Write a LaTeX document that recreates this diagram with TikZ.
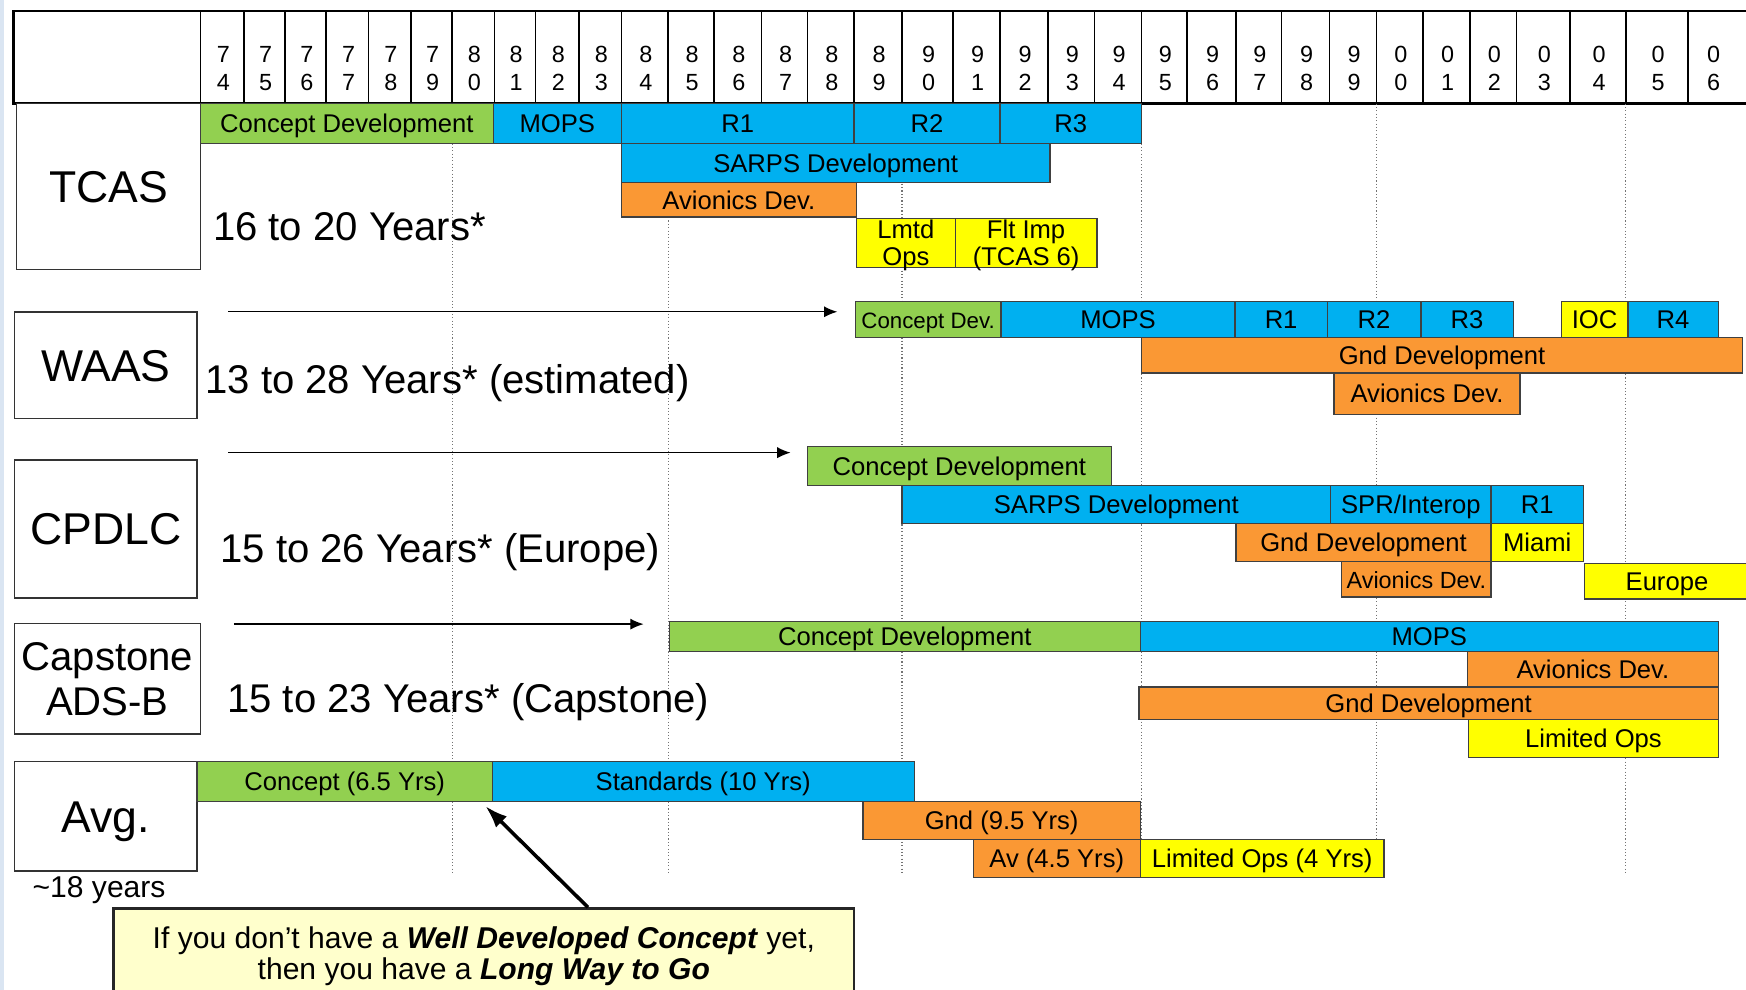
\documentclass[tikz,border=0pt]{standalone}
\usepackage{fontspec}
\setmainfont{Liberation Sans}
\usetikzlibrary{positioning}
\usetikzlibrary{arrows.meta}

\definecolor{cgreen}{RGB}{146,208,80}
\definecolor{cblue}{RGB}{0,176,240}
\definecolor{corange}{RGB}{250,152,52}
\definecolor{cyellow}{RGB}{255,255,0}
\definecolor{cnote}{RGB}{255,255,204}
\definecolor{cslide}{RGB}{218,229,242}

\begin{document}
\begin{tikzpicture}[
    x=0.5pt, y=-0.5pt,
    >={Latex[length=6pt,width=5pt]},
    % Define the style for the nodes
    task/.style={draw=black!75, line width=0.6pt, inner sep=0pt, outer sep=0pt, anchor=north west, align=center,
                 font=\fontsize{11.5}{12}\selectfont, text height=8.2pt, text depth=0pt},
    concept/.style={task, fill=cgreen},
    standard/.style={task, fill=cblue},
    develop/.style={task, fill=corange},
    ops/.style={task, fill=cyellow},
    program/.style={draw=black!80, line width=0.7pt, fill=white, inner sep=0pt, outer sep=0pt, anchor=north west,
                    align=center, font=\fontsize{20}{22}\selectfont, text height=14.3pt, text depth=0pt},
    duration/.style={anchor=base west, inner sep=0pt, font=\fontsize{18}{20}\selectfont},
    year/.style={inner sep=0pt, align=center, font=\fontsize{10.5}{12.5}\selectfont, text height=20pt, text depth=0pt},
    guide/.style={densely dotted, black!55, line width=0.5pt},
    callout/.style={draw=black!85, line width=1.2pt, fill=cnote, inner sep=0pt, align=center,
                    font=\fontsize{13.5}{14.3}\selectfont, text height=24pt, text depth=0pt}
]
    \clip (0,0) rectangle (1568,889);
    \fill[cslide] (0,0) rectangle (4,889);

    % year header
    \draw[line width=1.1pt] (1580,10) -- (12,10) -- (12,93) -- (1580,93);
    \foreach \a/\b/\xa/\xb in {7/4/180/219, 7/5/219/256, 7/6/256/293, 7/7/293/331, 7/8/331/369, 7/9/369/406,
        8/0/406/444, 8/1/444/481, 8/2/481/520, 8/3/520/558, 8/4/558/600, 8/5/600/641, 8/6/641/684, 8/7/684/725,
        8/8/725/767, 8/9/767/810, 9/0/810/856, 9/1/856/898, 9/2/898/941, 9/3/941/983, 9/4/983/1025,
        9/5/1025/1066, 9/6/1066/1110, 9/7/1110/1151, 9/8/1151/1194, 9/9/1194/1236, 0/0/1236/1278,
        0/1/1278/1320, 0/2/1320/1362, 0/3/1362/1410, 0/4/1410/1460, 0/5/1460/1516, 0/6/1516/1560} {
        \draw[line width=0.7pt] (\xa,10) -- (\xa,93);
        \node[year] (yr\a\b) at ({(\xa+\xb)/2+1},61) {\a\\\b};
    }

    % five year guides
    \foreach \x in {406,600,810,1025,1236,1460}
        \draw[guide] (\x,93) -- (\x,785);

    % TCAS
    \node[program, minimum width=82.5pt, minimum height=74.5pt] (tcas) at (15,93) {TCAS};
    \foreach \nm/\sty/\xa/\xb/\ya/\yb/\txt in {
        tcasCon/concept/180/443/93/129/Concept Development,
        tcasMops/standard/443/558/93/129/MOPS,
        tcasR1/standard/558/767/93/129/R1,
        tcasR2/standard/767/898/93/129/R2,
        tcasR3/standard/898/1025/93/129/R3,
        tcasSarps/standard/558/943/129/164/SARPS Development,
        tcasAv/develop/558/769/164/195/Avionics Dev.}
        \node[\sty, minimum width={(\xb-\xa)*0.5pt}, minimum height={(\yb-\ya)*0.5pt}] (\nm) at (\xa,\ya) {\txt};
    \node[ops, minimum width=44.5pt, minimum height=22pt, text height=20.2pt] (tcasLmtd) at (769,196) {Lmtd\\Ops};
    \node[ops, minimum width=63.5pt, minimum height=22pt, text height=20.2pt] (tcasFlt) at (858,196) {Flt Imp\\(TCAS 6)};
    \node[duration] (tcasSpan) at (191,216) {16 to 20 Years*};

    % WAAS
    \node[program, minimum width=82pt, minimum height=48pt] (waas) at (13,280) {WAAS};
    \foreach \nm/\sty/\xa/\xb/\ya/\yb/\txt in {
        waasCon/concept/768/899/271/303/{\fontsize{10}{12}\selectfont Concept Dev.},
        waasMops/standard/899/1109/271/303/MOPS,
        waasR1/standard/1109/1192/271/303/R1,
        waasR2/standard/1192/1276/271/303/R2,
        waasR3/standard/1276/1359/271/303/R3,
        waasIoc/ops/1402/1462/271/303/IOC,
        waasR4/standard/1462/1543/271/303/R4,
        waasGnd/develop/1025/1565/303/335/Gnd Development,
        waasAv/develop/1198/1365/335/372/Avionics Dev.}
        \node[\sty, minimum width={(\xb-\xa)*0.5pt}, minimum height={(\yb-\ya)*0.5pt}] (\nm) at (\xa,\ya) {\txt};
    \coordinate (waasGo) at (205,280);
    \draw[->, line width=0.6pt, shorten >=8pt] (waasGo) -- (waasGo -| waasCon.west);
    \node[duration] (waasSpan) at (184,353) {13 to 28 Years* (estimated)};

    % CPDLC
    \node[program, minimum width=82pt, minimum height=62pt] (cpdlc) at (13,413) {CPDLC};
    \foreach \nm/\sty/\xa/\xb/\ya/\yb/\txt in {
        cpdlcCon/concept/725/998/401/436/Concept Development,
        cpdlcSarps/standard/810/1195/436/470/SARPS Development,
        cpdlcSpr/standard/1195/1339/436/470/{SPR/Interop},
        cpdlcR1/standard/1339/1422/436/470/R1,
        cpdlcGnd/develop/1110/1339/470/504/Gnd Development,
        cpdlcMiami/ops/1339/1422/470/504/Miami,
        cpdlcAv/develop/1205/1339/504/536/{\fontsize{10.5}{12}\selectfont Avionics Dev.},
        cpdlcEur/ops/1423/1571/506/538/Europe}
        \node[\sty, minimum width={(\xb-\xa)*0.5pt}, minimum height={(\yb-\ya)*0.5pt}] (\nm) at (\xa,\ya) {\txt};
    \coordinate (cpdlcGo) at (205,406.5);
    \draw[->, line width=0.6pt, shorten >=7.5pt] (cpdlcGo) -- (cpdlcGo -| cpdlcCon.west);
    \node[duration] (cpdlcSpan) at (197.5,505) {15 to 26 Years* (Europe)};

    % Capstone ADS-B
    \node[program, minimum width=83.5pt, minimum height=49.5pt, font=\fontsize{18}{20.2}\selectfont,
          text height=33.1pt] (capstone) at (13,560) {Capstone\\ADS-B};
    \foreach \nm/\sty/\xa/\xb/\ya/\yb/\txt in {
        capCon/concept/601/1024/558/585/Concept Development,
        capMops/standard/1024/1543/558/585/MOPS,
        capAv/develop/1318/1543/585/617/Avionics Dev.,
        capGnd/develop/1023/1543/617/646/Gnd Development,
        capOps/ops/1319/1543/646/680/Limited Ops}
        \node[\sty, minimum width={(\xb-\xa)*0.5pt}, minimum height={(\yb-\ya)*0.5pt}] (\nm) at (\xa,\ya) {\txt};
    \coordinate (capGo) at (210,560.5);
    \draw[->, line width=0.6pt, shorten >=11.5pt] (capGo) -- (capGo -| capCon.west);
    \node[duration] (capSpan) at (203.7,640) {15 to 23 Years* (Capstone)};

    % average
    \node[program, minimum width=82pt, minimum height=49pt] (avg) at (13,684) {Avg.};
    \foreach \nm/\sty/\xa/\xb/\ya/\yb/\txt in {
        avgCon/concept/177/442/684/720/Concept (6.5 Yrs),
        avgStd/standard/442/821/684/720/Standards (10 Yrs),
        avgGnd/develop/775/1024/720/754/Gnd (9.5 Yrs),
        avgAv/develop/874/1024/754/788/Av (4.5 Yrs),
        avgOps/ops/1024/1243/754/788/Limited Ops (4 Yrs)}
        \node[\sty, minimum width={(\xb-\xa)*0.5pt}, minimum height={(\yb-\ya)*0.5pt}] (\nm) at (\xa,\ya) {\txt};
    \node[inner sep=0pt, font=\fontsize{13.5}{15}\selectfont, below=2.3pt of avg, xshift=-3pt] (avgYears) {\textasciitilde18 years};

    % note
    \node[callout, minimum width=332.5pt, minimum height=40pt] (note) at (434.5,856)
        {If you don’t have a \textbf{\textit{Well Developed Concept}} yet,\\then you have a \textbf{\textit{Long Way to Go}}};
    \draw[line width=1.6pt, -{Latex[length=10pt,width=7pt]}] ([xshift=46.75pt]note.north) -- ([shift={(-3pt,-2pt)}]avgCon.south east);

\end{tikzpicture}
\end{document}
